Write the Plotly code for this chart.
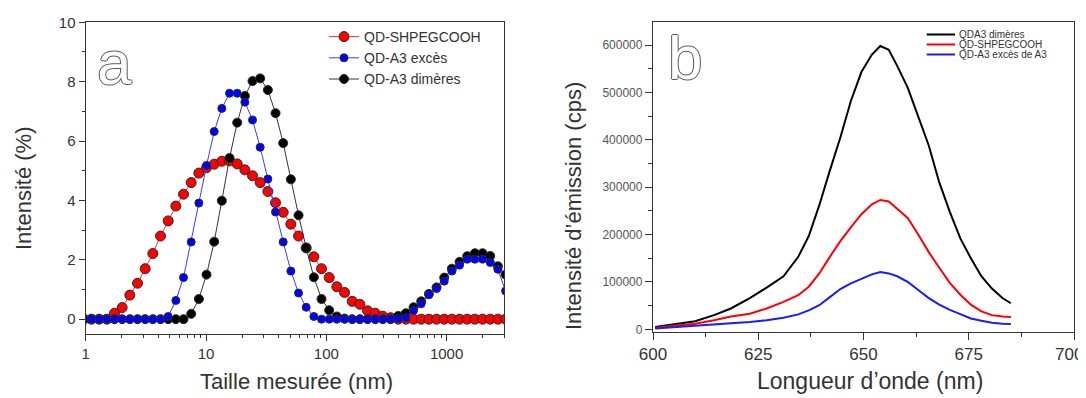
import math
import plotly.graph_objects as go

# ---------------- Panel a : DLS size distribution ----------------
size_nm = [0.9649, 1.117, 1.294, 1.499, 1.736, 2.01, 2.328, 2.696, 3.122, 3.615,
           4.187, 4.849, 5.615, 6.503, 7.531, 8.721, 10.1, 11.7, 13.54, 15.69,
           18.17, 21.04, 24.36, 28.21, 32.67, 37.84, 43.82, 50.75, 58.77, 68.06,
           78.82, 91.28, 105.7, 122.4, 141.8, 164.2, 190.1, 220.2, 255.0, 295.3,
           342.0, 396.1, 458.7, 531.2, 615.1, 712.4, 825.0, 955.4, 1106, 1281,
           1484, 1718, 1990, 2305, 2669, 3091]

int_shpeg = [0, 0, 0, 0, 0.2, 0.39, 0.81, 1.21, 1.70, 2.21,
             2.80, 3.31, 3.81, 4.21, 4.60, 4.92, 5.10, 5.22, 5.32, 5.33,
             5.23, 5.03, 4.83, 4.60, 4.30, 3.92, 3.60, 3.20, 2.80, 2.40,
             2.10, 1.70, 1.40, 1.09, 0.90, 0.60, 0.50, 0.28, 0.20, 0.10,
             0.05, 0, 0, 0, 0, 0, 0, 0, 0, 0,
             0, 0, 0, 0, 0, 0]

int_a3_exces = [0, 0, 0, 0, 0, 0, 0, 0, 0, 0,
                0, 0.09, 0.63, 1.40, 2.60, 3.91, 5.18, 6.32, 7.10, 7.61,
                7.61, 7.31, 6.71, 5.79, 4.72, 3.61, 2.60, 1.62, 0.88, 0.40,
                0.09, 0, 0, 0, 0, 0, 0, 0, 0, 0,
                0, 0.02, 0.05, 0.29, 0.52, 0.82, 1.03, 1.28, 1.62, 1.82,
                2.02, 2.02, 2.02, 1.91, 1.68, 0.95]

int_a3_dimeres = [0, 0, 0, 0, 0, 0, 0, 0, 0, 0,
                  0, 0, 0, 0, 0.18, 0.68, 1.50, 2.61, 3.99, 5.43,
                  6.62, 7.52, 8.02, 8.11, 7.72, 6.94, 5.93, 4.71, 3.50, 2.40,
                  1.41, 0.68, 0.30, 0.09, 0.02, 0, 0, 0, 0, 0,
                  0, 0.11, 0.20, 0.40, 0.60, 0.85, 1.07, 1.40, 1.70, 1.93,
                  2.12, 2.22, 2.22, 2.13, 1.78, 1.50]

# ---------------- Panel b : emission spectra ----------------
wavelength = [600.5, 606, 610, 614.5, 618.5, 623, 627, 631, 634.5, 637,
              639.5, 642, 644.5, 647, 649.5, 652, 654, 656, 658, 660.5,
              663, 665.5, 668, 670.5, 673, 675.5, 678, 680.5, 683, 685]

em_dimeres = [5000, 12000, 17000, 30000, 44000, 66000, 88000, 112000, 153000, 197000,
              262000, 335000, 405000, 482000, 543000, 580000, 598000, 590000, 556000, 510000,
              447000, 388000, 310000, 248000, 192000, 150000, 112000, 86000, 66000, 55000]

em_shpeg = [3500, 8500, 12000, 19000, 27000, 33000, 44000, 58000, 72000, 90000,
            118000, 153000, 186000, 215000, 243000, 264000, 273000, 270000, 255000, 235000,
            200000, 163000, 130000, 98000, 73000, 52000, 38000, 30000, 27000, 26000]

em_exces = [2000, 5000, 6500, 10000, 12700, 15500, 19000, 24500, 31500, 40000,
            51000, 68000, 85000, 97000, 107000, 116000, 121000, 118000, 112000, 100000,
            83000, 66000, 52000, 41000, 32000, 23000, 18000, 14000, 12000, 11500]

left_x_ticks = [1, 10, 100, 1000]
left_y_ticks = [0, 2, 4, 6, 8, 10]
right_x_ticks = [600, 625, 650, 675, 700]
right_y_ticks = [0, 100000, 200000, 300000, 400000, 500000, 600000]

# ---------------- figure ----------------
W, H = 1086, 398
OFF = 8  # page body margin: the figure is drawn 8 px right/down in the window
FONT = "Liberation Sans, Arial, sans-serif"
AX = "#333333"


def px_x(p):
    return (p - OFF) / W


def px_y(p):
    return 1 - (p - OFF) / H


fig = go.Figure()

mk_line = dict(color="#2a2a2a", width=1)
fig.add_trace(go.Scatter(
    x=size_nm, y=int_shpeg, mode="lines+markers", name="QD-SHPEGCOOH",
    line=dict(color="#ff3030", width=1), legendrank=1,
    marker=dict(symbol="circle", size=10, color="#ff0000", line=mk_line),
    xaxis="x", yaxis="y"))
fig.add_trace(go.Scatter(
    x=size_nm, y=int_a3_dimeres, mode="lines+markers", name="QD-A3 dimères",
    line=dict(color="#333333", width=1), legendrank=3,
    marker=dict(symbol="circle", size=9, color="#000000", line=mk_line),
    xaxis="x", yaxis="y"))
fig.add_trace(go.Scatter(
    x=size_nm, y=int_a3_exces, mode="lines+markers", name="QD-A3 excès",
    line=dict(color="#3a3aff", width=1), legendrank=2,
    marker=dict(symbol="circle", size=8, color="#0000ff", line=mk_line),
    xaxis="x", yaxis="y"))

fig.add_trace(go.Scatter(x=wavelength, y=em_dimeres, mode="lines", name="QDA3 dimères",
                         line=dict(color="#000000", width=2), showlegend=False,
                         xaxis="x2", yaxis="y2"))
fig.add_trace(go.Scatter(x=wavelength, y=em_shpeg, mode="lines", name="QD-SHPEGCOOH ",
                         line=dict(color="#ff0000", width=2), showlegend=False,
                         xaxis="x2", yaxis="y2"))
fig.add_trace(go.Scatter(x=wavelength, y=em_exces, mode="lines", name="QD-A3 excès de A3",
                         line=dict(color="#1a1aff", width=2), showlegend=False,
                         xaxis="x2", yaxis="y2"))

minor_log = [m * d for d in (1, 10, 100, 1000) for m in range(2, 10) if m * d <= 3000]

axis_common = dict(showgrid=False, zeroline=False, showline=True, linecolor=AX,
                   linewidth=1.3, mirror=True, ticks="outside", tickcolor=AX,
                   tickwidth=1, color=AX, automargin=False)

# last tick label of panel b sits on the window edge: draw it as a right-anchored text
right_x_text = [str(v) if v != right_x_ticks[-1] else "" for v in right_x_ticks]

fig.update_layout(
    width=W, height=H, margin=dict(l=0, r=0, t=0, b=0, pad=0, autoexpand=False),
    paper_bgcolor="white", plot_bgcolor="white",
    font=dict(family=FONT, color=AX),
    xaxis=dict(axis_common, type="log", domain=[px_x(85.7), px_x(504)],
               range=[0, math.log10(3000)], tickvals=left_x_ticks,
               ticktext=[str(v) for v in left_x_ticks], ticklen=6,
               tickfont=dict(size=15, color=AX),
               minor=dict(tickvals=minor_log, ticks="outside", ticklen=3,
                          tickcolor=AX, showgrid=False),
               anchor="y"),
    yaxis=dict(axis_common, domain=[px_y(334), px_y(22.3)], range=[-0.5, 10],
               tickvals=left_y_ticks, ticklen=6, tickfont=dict(size=15, color=AX),
               minor=dict(dtick=1, ticks="outside", ticklen=3, tickcolor=AX, showgrid=False),
               anchor="x"),
    xaxis2=dict(axis_common, domain=[px_x(653), px_x(1074)], range=[600, 700],
                tickvals=right_x_ticks, ticktext=right_x_text, ticklen=7,
                tickfont=dict(size=17, color=AX),
                minor=dict(dtick=12.5, ticks="outside", ticklen=4, tickcolor=AX, showgrid=False),
                anchor="y2"),
    yaxis2=dict(axis_common, domain=[px_y(331.7), px_y(22.3)], range=[-5000, 648000],
                tickvals=right_y_ticks, tickformat="d", ticklen=7,
                tickfont=dict(size=12, color="#555555"),
                minor=dict(dtick=50000, ticks="outside", ticklen=4, tickcolor=AX, showgrid=False),
                anchor="x2"),
    legend=dict(x=px_x(324), y=px_y(21), xanchor="left", yanchor="top",
                bgcolor="rgba(0,0,0,0)", borderwidth=0, tracegroupgap=0,
                font=dict(size=14, color=AX, family=FONT)),
    showlegend=True,
)

annotations = []
# axis titles
annotations.append(dict(text="Intensité (%)", x=px_x(24), y=px_y(188), textangle=-90,
                        font=dict(size=22, color=AX)))
annotations.append(dict(text="Taille mesurée (nm)", x=px_x(296), y=px_y(381),
                        font=dict(size=22, color=AX)))
annotations.append(dict(text="Intensité d’émission (cps)", x=px_x(573), y=px_y(206),
                        textangle=-90, font=dict(size=22, color=AX)))
annotations.append(dict(text="Longueur d’onde (nm)", x=px_x(870), y=px_y(381),
                        font=dict(size=23, color=AX)))
annotations.append(dict(text=str(right_x_ticks[-1]), x=px_x(1085), y=px_y(354),
                        xanchor="right", font=dict(size=17, color=AX)))
# panel letters (outlined)
outline = "1px 0 0 #555, -1px 0 0 #555, 0 1px 0 #555, 0 -1px 0 #555"
annotations.append(dict(text="a", x=px_x(114), y=px_y(62),
                        font=dict(size=62, color="white", shadow=outline)))
annotations.append(dict(text="b", x=px_x(684.5), y=px_y(57),
                        font=dict(size=62, color="white", shadow=outline)))

# manual legend for panel b
leg_b = [("QDA3 dimères", "#000000", 34.5),
         ("QD-SHPEGCOOH", "#ff0000", 44.5),
         ("QD-A3 excès de A3", "#1a1aff", 54.5)]
shapes = []
for name, col, yy in leg_b:
    shapes.append(dict(type="line", xref="paper", yref="paper",
                       x0=px_x(926.7), x1=px_x(955), y0=px_y(yy), y1=px_y(yy),
                       line=dict(color=col, width=2)))
    annotations.append(dict(text=name, x=px_x(957), y=px_y(yy), xanchor="left",
                            font=dict(size=10, color="#333333")))

for a in annotations:
    a.setdefault("xref", "paper")
    a.setdefault("yref", "paper")
    a.setdefault("showarrow", False)
    a.setdefault("xanchor", "center")
    a.setdefault("yanchor", "middle")

fig.update_layout(annotations=annotations, shapes=shapes)

fig.write_html("out.html")
